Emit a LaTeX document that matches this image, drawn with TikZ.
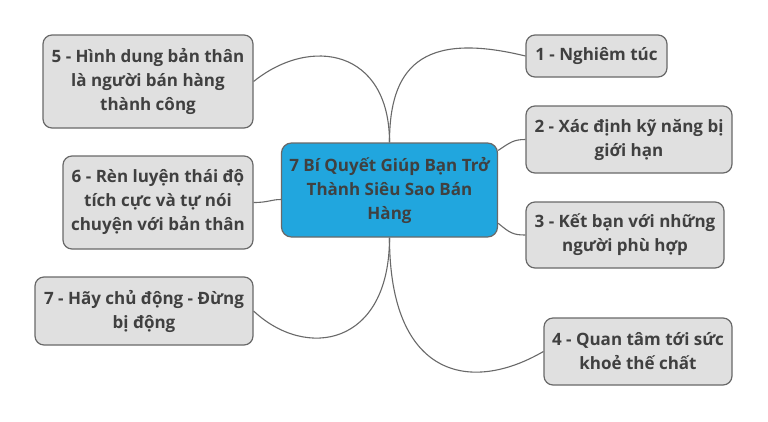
\documentclass[tikz,border=0pt]{standalone}
\usepackage{fontspec}
\setmainfont{Open Sans}
\usepackage{tikz}
\usetikzlibrary{positioning,shapes}
\definecolor{hubblue}{RGB}{33,166,222}
\definecolor{boxgray}{RGB}{224,224,224}
\definecolor{edgegray}{RGB}{105,105,105}
\definecolor{inkgray}{RGB}{64,64,64}

\begin{document}
\begin{tikzpicture}[x=1pt,y=-1pt]
            \tikzstyle{central}=[rectangle, rounded corners=10pt, minimum width=216pt, minimum height=94pt, inner sep=0pt, line width=1.2pt, draw=edgegray, fill=hubblue, text=inkgray, align=center, font=\fontsize{17}{24}\selectfont\bfseries]
            \tikzstyle{topic}=[rectangle, rounded corners=9pt, inner sep=0pt, line width=1.2pt, draw=edgegray, fill=boxgray, text=inkgray, align=center, font=\fontsize{17}{24}\selectfont\bfseries]
            \tikzstyle{connect}=[line width=1.1pt, draw=edgegray]
            \fill[white] (0,0) rectangle (768,421);
            \useasboundingbox (0,0) rectangle (768,421);
            {\node[central] (hub) at (389.5,190){7 Bí Quyết Giúp Bạn Trở\\Thành Siêu Sao Bán\\Hàng};
            \node[topic, minimum width=141pt, minimum height=42pt] (n1) at (596.5,56){1 - Nghiêm túc};
            \node[topic, minimum width=206pt, minimum height=67pt] (n2) at (629,139.5){2 - Xác định kỹ năng bị\\giới hạn};
            \node[topic, minimum width=198pt, minimum height=66pt] (n3) at (625,235){3 - Kết bạn với những\\người phù hợp};
            \node[topic, minimum width=188pt, minimum height=67pt] (n4) at (638,351.5){4 - Quan tâm tới sức\\khoẻ thế chất};
            \node[topic, minimum width=210pt, minimum height=93pt] (n5) at (148,81.5){5 - Hình dung bản thân\\là người bán hàng\\thành công};
            \node[topic, minimum width=190pt, minimum height=93pt] (n6) at (158,202.5){6 - Rèn luyện thái độ\\tích cực và tự nói\\chuyện với bản thân};
            \node[topic, minimum width=218pt, minimum height=68pt] (n7) at (144,311){7 - Hãy chủ động - Đừng\\bị động};}
            \draw[connect] (hub.north) .. controls +(0,-73) and +(-106,-26) .. (n1.west);
            \draw[connect] (hub.20) .. controls +(12,-8) and +(-12,0) .. (n2.west);
            \draw[connect] (hub.343) .. controls +(12,10) and +(-12,0) .. (n3.west);
            \draw[connect] (hub.south) .. controls +(0,139) and +(-74,43) .. (n4.west);
            \draw[connect] (hub.north) .. controls +(0,-93) and +(57,-46) .. (n5.east);
            \draw[connect] (hub.185) .. controls +(-10,0) and +(15,0) .. (n6.east);
            \draw[connect] (hub.south) .. controls +(0,109) and +(52,49) .. (n7.east);
        \end{tikzpicture}
\end{document}
